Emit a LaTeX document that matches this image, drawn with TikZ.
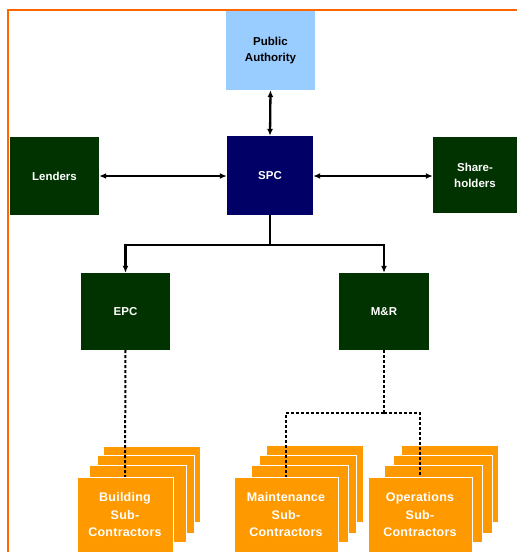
\documentclass[tikz,border=0pt]{standalone}
\usepackage{fontspec}
\setmainfont{Liberation Sans}
\usetikzlibrary{arrows.meta}
\definecolor{frameorange}{HTML}{FF6600}
\definecolor{cardorange}{HTML}{FF9900}
\definecolor{skyblue}{HTML}{99CCFF}
\definecolor{navy}{HTML}{000066}
\definecolor{forest}{HTML}{003300}
\tikzset{
  box/.style={inner sep=0pt, align=center, font=\fontsize{11.5}{16}\selectfont\bfseries},
  greenbox/.style={box, fill=forest, text=white},
  card/.style={fill=cardorange, draw=white, line width=0.7pt},
  cardtext/.style={inner sep=0pt, align=center, text=white,
    font=\fontsize{12.5}{17.5}\selectfont\bfseries\addfontfeature{LetterSpace=2}},
  link/.style={line width=2.3pt, {Latex[length=7pt,width=6pt]}-{Latex[length=7pt,width=6pt]}},
  feed/.style={line width=2.3pt, -{Latex[length=7pt,width=6pt]}},
  sub/.style={line width=2pt, dash pattern=on 3pt off 2pt}
}
\begin{document}
\begin{tikzpicture}[x=1pt,y=-1pt]
\useasboundingbox (0,0) rectangle (517,552);
\fill[white] (0,0) rectangle (517,552);

% frame along the top and left edges
\draw[frameorange, line width=2.5pt] (8,553) -- (8,10) -- (518,10);

% upper tier
\node[box, fill=skyblue, minimum width=89pt, minimum height=79pt] (pa) at (270.5,50.5) {Public\\Authority};
\node[box, fill=navy, text=white, minimum width=86pt, minimum height=79pt] (spc) at (270,175.5) {SPC};
\node[greenbox, minimum width=89pt, minimum height=78pt] (lenders) at (54.5,176) {Lenders};
\node[greenbox, minimum width=84pt, minimum height=76pt] (share) at (475,175) {Share-\\holders};

% contractors
\node[greenbox, minimum width=89pt, minimum height=77pt] (epc) at (125.5,311.5) {EPC};
\node[greenbox, minimum width=90pt, minimum height=77pt] (mr) at (384,311.5) {M\&R};

\draw[link] (pa.south) -- (spc.north);
\draw[link] (lenders.east |- 0,176) -- (spc.west |- 0,176);
\draw[link] (spc.east |- 0,176) -- (share.west |- 0,176);

\coordinate (split) at (270,245);
\draw[line width=2.3pt] (spc.south) -- (split);
\draw[feed] (split) -| (epc.north);
\draw[feed] (split) -| (mr.north);

% building sub-contractors stack
\path[card] (103,446) rectangle (200,522);
\path[card] (97,455) rectangle (194,533);
\path[card] (89,465) rectangle (186,542);
% maintenance sub-contractors stack
\path[card] (266,445) rectangle (363,522);
\path[card] (259,455) rectangle (356,533);
\path[card] (251,465) rectangle (348,542);
% operations sub-contractors stack
\path[card] (401,445) rectangle (498,522);
\path[card] (393,455) rectangle (492,533);
\path[card] (384,465) rectangle (482,542);

\coordinate (mrsplit) at (384,413);
\draw[sub] (epc.south) -- (125,477);
\draw[sub] (mr.south) -- (mrsplit);
\draw[sub] (mrsplit) -| (286,477);
\draw[sub] (mrsplit) -| (420,477);

\path[card] (77,477) rectangle (173,555);
\path[card] (234,477) rectangle (338,555);
\path[card] (368,477) rectangle (472,555);
\node[cardtext] (building) at (125,515) {Building\\Sub-\\Contractors};
\node[cardtext] (maint) at (286,515) {Maintenance\\Sub-\\Contractors};
\node[cardtext] (ops) at (420,515) {Operations\\Sub-\\Contractors};
\end{tikzpicture}
\end{document}
